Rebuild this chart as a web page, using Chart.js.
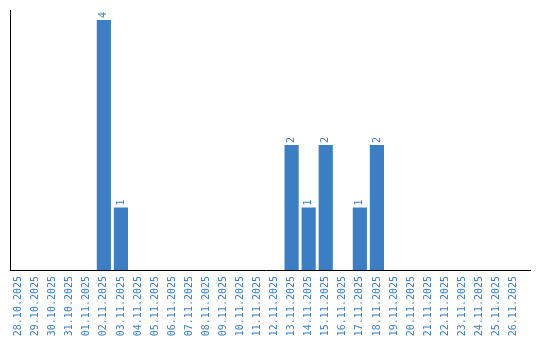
<!DOCTYPE html>
<html>
<head>
<meta charset="utf-8">
<script src="https://cdn.jsdelivr.net/npm/chart.js@4"></script>
<style>
  html, body { margin:0; padding:0; background:#fff; }
  #wrap { width:540px; height:340px; }
</style>
</head>
<body>
<div id="wrap"><canvas id="chart" width="540" height="340"></canvas></div>
<script>
const dates = ['28.10.2025','29.10.2025','30.10.2025','31.10.2025','01.11.2025','02.11.2025','03.11.2025','04.11.2025','05.11.2025','06.11.2025',
  '07.11.2025','08.11.2025','09.11.2025','10.11.2025','11.11.2025','12.11.2025','13.11.2025','14.11.2025','15.11.2025','16.11.2025',
  '17.11.2025','18.11.2025','19.11.2025','20.11.2025','21.11.2025','22.11.2025','23.11.2025','24.11.2025','25.11.2025','26.11.2025'];
const counts = [0,0,0,0,0,4,1,0,0,0, 0,0,0,0,0,0,2,1,2,0, 1,2,0,0,0,0,0,0,0,0];
const yMax = 4.16;

const blue = '#3b7ec4';
const mono = 'DejaVu Sans Mono';

// value labels on top of bars, rotated
const valueLabels = {
  id: 'valueLabels',
  afterDatasetsDraw(chart){
    const ctx = chart.ctx;
    const meta = chart.getDatasetMeta(0);
    ctx.save();
    ctx.fillStyle = blue;
    ctx.font = '10px "' + mono + '"';
    ctx.textAlign = 'left';
    ctx.textBaseline = 'middle';
    meta.data.forEach((bar, i) => {
      if (!counts[i]) return;
      ctx.save();
      ctx.translate(bar.x, bar.y - 2);
      ctx.rotate(-Math.PI/2);
      ctx.fillText(String(counts[i]), 0, 0);
      ctx.restore();
    });
    ctx.restore();
  },
  afterDraw(chart){
    // x axis line runs a bit past the last category
    const ctx = chart.ctx, a = chart.chartArea;
    ctx.save();
    ctx.strokeStyle = '#000';
    ctx.lineWidth = 1;
    ctx.beginPath();
    ctx.moveTo(a.right - 1, a.bottom + 0.5);
    ctx.lineTo(531, a.bottom + 0.5);
    ctx.stroke();
    ctx.restore();
  }
};

new Chart(document.getElementById('chart'), {
  type: 'bar',
  data: {
    labels: dates,
    datasets: [{ data: counts, backgroundColor: blue, barPercentage: 0.83, categoryPercentage: 1 }]
  },
  options: {
    responsive: false,
    animation: false,
    layout: { padding: { left: 10, top: 10, right: 18, bottom: 0 } },
    plugins: { legend: { display: false }, tooltip: { enabled: false } },
    scales: {
      x: {
        grid: { display: false, drawTicks: false },
        border: { display: true, color: '#000', width: 1 },
        ticks: { color: blue, font: { family: mono, size: 10 }, minRotation: 90, maxRotation: 90, padding: 6, autoSkip: false },
        afterFit(scale){ scale.height = 70; }
      },
      y: {
        min: 0, max: yMax,
        grid: { display: false, drawTicks: false },
        border: { display: true, color: '#000', width: 1 },
        ticks: { display: false },
        afterFit(scale){ scale.width = 0; }
      }
    }
  },
  plugins: [valueLabels]
});
</script>
</body>
</html>
